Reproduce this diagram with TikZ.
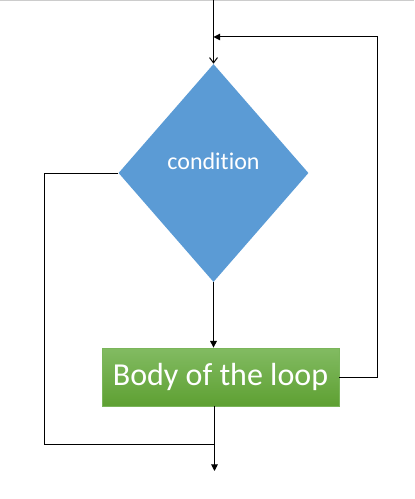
\documentclass[tikz,border=0pt]{standalone}
\usepackage{fontspec}
\setmainfont[Ligatures=NoCommon]{Carlito}
\definecolor{condblue}{RGB}{91,155,213}
\definecolor{bodytop}{RGB}{130,187,98}
\definecolor{bodybottom}{RGB}{94,160,50}
\definecolor{bodyedge}{RGB}{122,181,90}
\usetikzlibrary{positioning}
\usetikzlibrary{shapes.geometric}
\usetikzlibrary{arrows.meta}
\tikzset{
  decision/.style={diamond, fill=condblue, draw=none, minimum width=142.5pt, minimum height=163.5pt, inner sep=0pt},
  bodybox/.style={rectangle, top color=bodytop, bottom color=bodybottom, draw=bodyedge, line width=0.6pt,
    minimum width=177.75pt, minimum height=43.5pt, text=white, font=\fontsize{24}{28}\selectfont},
  flow/.style={line width=0.75pt, -{Triangle[length=5pt,width=5pt]}},
}

\begin{document}
\begin{tikzpicture}[x=0.75pt, y=-0.75pt]
  \useasboundingbox (0,0) rectangle (414,499);
  \draw [black!20, line width=1pt] (0,0.7) -- (414,0.7);

  % nodes
  \node [decision] (cond) at (213.5,173) {};
  \node [text=white, font=\fontsize{18}{22}\selectfont] (condtext) at (213.5,161) {condition};
  \node [bodybox] (body) at (220.5,377) {Body of the loop};

  % coordinates of the connectors
  \coordinate (entry) at (213.5,0);
  \coordinate (back) at (377,37);
  \coordinate (out) at (44,444);
  \coordinate (exit) at (214.5,471);

  % entry
  \draw [line width=0.75pt, -{Straight Barb[length=4pt,width=6pt]}] (entry) -- (cond.north);
  % condition true
  \draw [flow] (cond.south) -- (cond.south |- body.north);
  % back to the condition
  \draw [flow] (body.east) -| (back) -- (back -| cond.north);
  % condition false
  \draw [line width=0.75pt] (cond.west) -| (out) -- (out -| exit);
  \draw [flow] (body.south -| exit) -- (exit);
\end{tikzpicture}
\end{document}
